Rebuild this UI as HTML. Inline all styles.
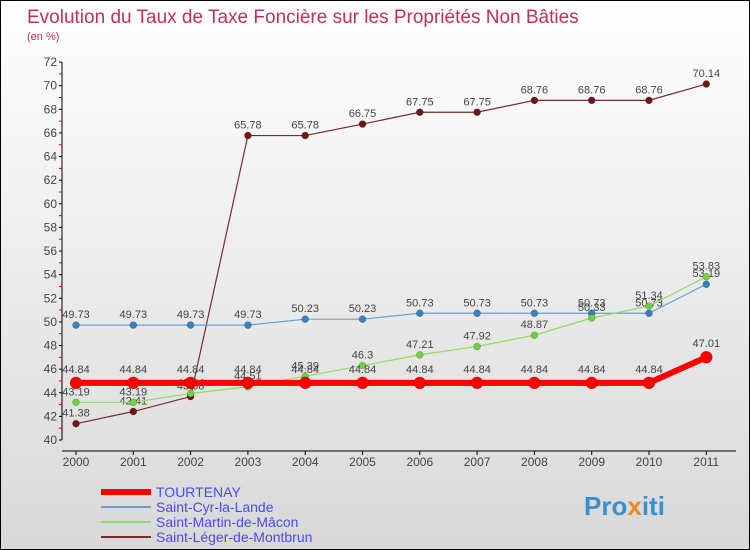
<!DOCTYPE html>
<html><head><meta charset="utf-8"><style>
body{margin:0;}
#wrap{width:748px;height:548px;border:1px solid #000;background:linear-gradient(#fff,#d8d8d8);position:relative;overflow:hidden;font-family:"Liberation Sans",sans-serif;}
svg text{font-family:"Liberation Sans",sans-serif;}
</style></head><body>
<div id="wrap">
<svg id="svg" width="748" height="548">
<text x="26" y="22" font-size="19" fill="#c0305a">Evolution du Taux de Taxe Foncière sur les Propriétés Non Bâties</text>
<text x="26" y="39" font-size="11" fill="#c0305a">(en %)</text>
<g id="axes"></g><g id="series"></g><g id="legend"></g>
<text x="583" y="514" font-size="26" font-weight="bold" fill="#3a8fd0">Pro<tspan fill="#f08a1c">x</tspan>iti</text>
</svg>
</div>
<script>
const years=["2000","2001","2002","2003","2004","2005","2006","2007","2008","2009","2010","2011"];
const yTicks=[40,42,44,46,48,50,52,54,56,58,60,62,64,66,68,70,72];
const tourtenay=[44.84,44.84,44.84,44.84,44.84,44.84,44.84,44.84,44.84,44.84,44.84,47.01];
const saintCyr=[49.73,49.73,49.73,49.73,50.23,50.23,50.73,50.73,50.73,50.73,50.73,53.19];
const saintMartin=[43.19,43.19,43.94,44.51,45.39,46.3,47.21,47.92,48.87,50.33,51.34,53.83];
const saintLeger=[41.38,42.41,43.68,65.78,65.78,66.75,67.75,67.75,68.76,68.76,68.76,70.14];
const seriesNames=["TOURTENAY","Saint-Cyr-la-Lande","Saint-Martin-de-Mâcon","Saint-Léger-de-Montbrun"];
const NS="http://www.w3.org/2000/svg";
function X(i){return 75+i*57.3;}
function Y(v){return 439-(v-40)*11.81;}
function mk(tag,attrs,parent){const e=document.createElementNS(NS,tag);for(const k in attrs)e.setAttribute(k,attrs[k]);parent.appendChild(e);return e;}
const axes=document.getElementById('axes');
let l=mk('line',{x1:61,y1:Y(72),x2:61,y2:Y(40),stroke:'#000'},axes);


yTicks.forEach((v,i)=>{
 let t=mk('line',{x1:58,y1:Y(v),x2:61,y2:Y(v),stroke:'#000'},axes);
 
 
 if(i<yTicks.length-1){let m=mk('line',{x1:58,y1:Y(v+1),x2:61,y2:Y(v+1),stroke:'#d00'},axes);
 
 }
 let tx=mk('text',{x:56,y:Y(v)+4,'text-anchor':'end','font-size':12,fill:'#444'},axes);tx.textContent=v;
 
 
});
let xa=mk('line',{x1:61,y1:450,x2:735,y2:450,stroke:'#000'},axes);


years.forEach((y,i)=>{
 let t=mk('line',{x1:X(i),y1:450,x2:X(i),y2:454,stroke:'#000'},axes);
 
 
 let tx=mk('text',{x:X(i),y:465,'text-anchor':'middle','font-size':12,fill:'#444'},axes);tx.textContent=y;
 
 
});
const sg=document.getElementById('series');
function draw(data,color,dot,w,r,name,labelDy){
 const g=mk('g',{},sg);
 
 
 const p=mk('polyline',{points:data.map((v,i)=>X(i)+','+Y(v)).join(' '),fill:'none',stroke:color,'stroke-width':w},g);
 
 
 data.forEach((v,i)=>{
  const c=mk('circle',{cx:X(i),cy:Y(v),r:r,fill:dot,stroke:'rgba(0,0,0,0.3)','stroke-width':0.5},g);
  
  
  const t=mk('text',{x:X(i),y:Y(v)+labelDy,'text-anchor':'middle','font-size':11,fill:'#444'},g);
  t.textContent=v.toFixed(2).replace(/\.?0+$/,'');
  
  
 });
}
draw(saintLeger,'#7a2a2a','#6a1818',1.2,3.5,'saint-leger-series',-7);
draw(saintCyr,'#6aa0d0','#3a80c0',1.2,3.5,'saint-cyr-series',-7);
draw(saintMartin,'#90dd60','#70d040',1.2,3.5,'saint-martin-series',-7);
draw(tourtenay,'#ff0000','#ff0000',6,6,'tourtenay-series',-10);
const lg=document.getElementById('legend');
const lc=['#ff0000','#6aa0d0','#90dd60','#7a2a2a'],lw=[6,2,2,2];
seriesNames.forEach((n,i)=>{
 const y=491+i*15;
 const e=mk('g',{},lg);
 
 
 mk('line',{x1:100,y1:y,x2:150,y2:y,stroke:lc[i],'stroke-width':lw[i]},e);
 const t=mk('text',{x:155,y:y+5,'font-size':14,fill:'#4a4af0'},e);t.textContent=n;
});
</script>
</body></html>
